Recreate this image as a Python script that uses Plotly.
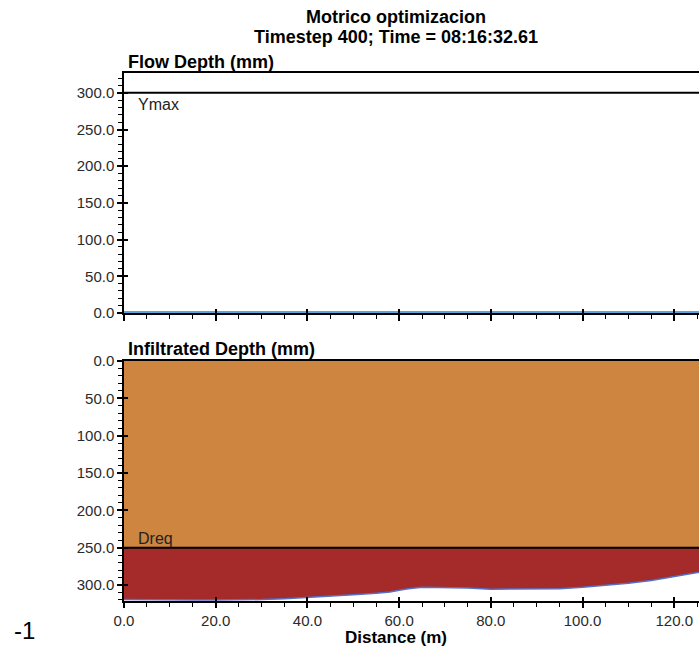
import plotly.graph_objects as go

# ---- data ----
distance = [0, 5, 10, 15, 20, 25, 30, 35, 40, 45, 50, 55, 58, 60, 62, 65, 70,
            75, 80, 85, 90, 95, 100, 105, 110, 115, 120, 125.4]
flow_depth = [0] * len(distance)
infiltrated = [319.5, 320, 320, 320, 320, 320, 319.5, 318.5, 317, 315, 313, 311,
               309.5, 307, 305, 303, 303, 304, 305.5, 305.5, 305.5, 305, 303,
               300.5, 297.5, 294, 289, 283]
ymax_value = 300
dreq_value = 250

title_line1 = "Motrico optimizacion"
title_line2 = "Timestep 400; Time = 08:16:32.61"

W, H = 699, 648
def px(x):
    return x / W
def py(y):
    return 1 - y / H

X_RANGE = [0, 125.4]
UP_RANGE = [0, 327]
LOW_RANGE = [321.4, 0]

ORANGE = "#CD853F"
RED = "#A52A2A"
BLUE_FLOW = "#5AA5DC"
BLUE_INF = "#5470C8"

fig = go.Figure()

# ---- upper panel: flow depth ----
fig.add_trace(go.Scatter(x=distance, y=[ymax_value] * len(distance), mode="lines",
                         line=dict(color="black", width=2), xaxis="x", yaxis="y",
                         hoverinfo="skip", showlegend=False))
fig.add_trace(go.Scatter(x=distance, y=flow_depth, mode="lines",
                         line=dict(color=BLUE_FLOW, width=4), xaxis="x", yaxis="y",
                         showlegend=False))

# ---- lower panel: infiltrated depth ----
fig.add_trace(go.Scatter(x=distance, y=[0] * len(distance), mode="lines",
                         line=dict(width=0, color=ORANGE), xaxis="x2", yaxis="y2",
                         hoverinfo="skip", showlegend=False))
fig.add_trace(go.Scatter(x=distance, y=[dreq_value] * len(distance), mode="lines",
                         line=dict(width=0, color=ORANGE), fill="tonexty",
                         fillcolor=ORANGE, xaxis="x2", yaxis="y2",
                         hoverinfo="skip", showlegend=False))
fig.add_trace(go.Scatter(x=distance, y=infiltrated, mode="lines",
                         line=dict(width=1.5, color=BLUE_INF), fill="tonexty",
                         fillcolor=RED, xaxis="x2", yaxis="y2", showlegend=False))
fig.add_trace(go.Scatter(x=distance, y=[dreq_value] * len(distance), mode="lines",
                         line=dict(color="black", width=2), xaxis="x2", yaxis="y2",
                         hoverinfo="skip", showlegend=False))

# invisible traces for overlay axes (inside major ticks)
for xa, ya in (("x3", "y"), ("x", "y3"), ("x4", "y2"), ("x2", "y4")):
    fig.add_trace(go.Scatter(x=[None], y=[None], xaxis=xa, yaxis=ya,
                             showlegend=False, hoverinfo="skip"))

tickfont = dict(family="Liberation Sans, Arial, sans-serif", size=15, color="#2a2a2a")
minor_x = dict(dtick=5, ticks="outside", ticklen=4, tickwidth=1, tickcolor="black", showgrid=False)
minor_y = dict(dtick=10, ticks="outside", ticklen=4, tickwidth=1, tickcolor="black", showgrid=False)

up_dom = [py(313), py(73)]
low_dom = [py(601), py(361)]
x_dom = [px(124), 1.0]

common_x = dict(range=X_RANGE, domain=x_dom, showgrid=False, zeroline=False,
                tick0=0, dtick=20, automargin=False)
common_y = dict(showgrid=False, zeroline=False, tick0=0, dtick=50, automargin=False)
fig.update_layout(
    xaxis=dict(**common_x, anchor="y", showline=True, linecolor="black", linewidth=1.5,
               mirror=True, ticks="outside", ticklen=6, tickwidth=2, tickcolor="black",
               showticklabels=False, minor=minor_x),
    xaxis3=dict(**common_x, overlaying="x", anchor="y", side="bottom", showline=False,
                ticks="inside", ticklen=4, tickwidth=2, tickcolor="black",
                showticklabels=False),
    yaxis=dict(**common_y, range=UP_RANGE, domain=up_dom, anchor="x",
               showline=True, linecolor="black", linewidth=1.5,
               ticks="outside", ticklen=5, tickwidth=2, tickcolor="black",
               tickformat=".1f", tickfont=tickfont, minor=minor_y),
    yaxis3=dict(**common_y, range=UP_RANGE, domain=up_dom, overlaying="y", anchor="x",
                side="left", showline=False,
                ticks="inside", ticklen=4, tickwidth=2, tickcolor="black",
                showticklabels=False),
    xaxis2=dict(**common_x, anchor="y2", showline=True, linecolor="black", linewidth=1.5,
                mirror=True, ticks="outside", ticklen=5, tickwidth=2, tickcolor="black",
                tickformat=".1f", tickfont=tickfont, minor=minor_x),
    xaxis4=dict(**common_x, overlaying="x2", anchor="y2", side="bottom", showline=False,
                ticks="inside", ticklen=4, tickwidth=2, tickcolor="black",
                showticklabels=False),
    yaxis2=dict(**common_y, range=LOW_RANGE, domain=low_dom, anchor="x2",
                showline=True, linecolor="black", linewidth=1.5,
                ticks="outside", ticklen=5, tickwidth=2, tickcolor="black",
                tickformat=".1f", tickfont=tickfont, minor=minor_y),
    yaxis4=dict(**common_y, range=LOW_RANGE, domain=low_dom, overlaying="y2", anchor="x2",
                side="left", showline=False,
                ticks="inside", ticklen=4, tickwidth=2, tickcolor="black",
                showticklabels=False),
)

bold = dict(family="Liberation Sans, Arial, sans-serif", size=18, color="black")
normal = dict(family="Liberation Sans, Arial, sans-serif", size=16, color="#222222")

annotations = [
    dict(text="<b>" + title_line1 + "</b>", x=px(396), y=py(17), xanchor="center",
         yanchor="middle", font=bold),
    dict(text="<b>" + title_line2 + "</b>", x=px(396), y=py(37), xanchor="center",
         yanchor="middle", font=bold),
    dict(text="<b>Flow Depth (mm)</b>", x=px(126), y=py(62), xanchor="left",
         yanchor="middle", font=bold),
    dict(text="<b>Infiltrated Depth (mm)</b>", x=px(126), y=py(349), xanchor="left",
         yanchor="middle", font=bold),
    dict(text="<b>Distance (m)</b>", x=px(396), y=py(647.5), xanchor="center",
         yanchor="bottom", borderpad=0,
         font=dict(family="Liberation Sans, Arial, sans-serif", size=17, color="black")),
    dict(text="Ymax", x=px(136), y=py(104), xanchor="left", yanchor="middle", font=normal),
    dict(text="Dreq", x=px(136), y=py(538), xanchor="left", yanchor="middle", font=normal),
    dict(text="-1", x=px(12), y=py(630), xanchor="left", yanchor="middle",
         font=dict(family="Liberation Sans, Arial, sans-serif", size=24, color="black")),
]
for a in annotations:
    a.update(xref="paper", yref="paper", showarrow=False)

fig.update_layout(
    width=W, height=H, autosize=False,
    margin=dict(l=0, r=0, t=0, b=0, pad=0, autoexpand=False),
    paper_bgcolor="white", plot_bgcolor="white",
    annotations=annotations,
    showlegend=False,
)

fig.write_html("out.html", config=dict(displayModeBar=False))
